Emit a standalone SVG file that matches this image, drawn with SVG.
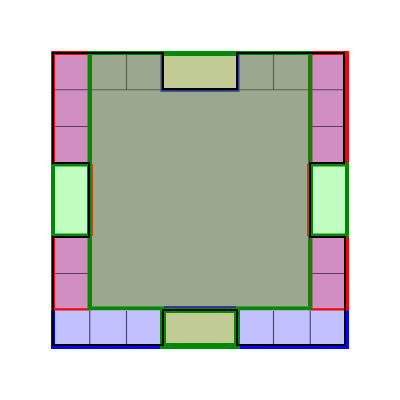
<svg xmlns="http://www.w3.org/2000/svg" width="400" height="400" viewBox="0 0 400 400">
<style>
.gray{fill:#9aa98e}
.pink{fill:#cf8fc3}
.lav{fill:#c0c0ff}
.khaki{fill:#c0cc94}
.lg{fill:#c0ffc0}
.sepg{stroke:#56624e;stroke-width:1.2;fill:none}
.sepp{stroke:#6b3760;stroke-width:1.2;fill:none}
.sepb{stroke:#4a4a7a;stroke-width:1.2;fill:none}
.red{fill:none;stroke:#ff0000;stroke-width:4}
.grn{fill:none;stroke:#008800;stroke-width:4}
.blu{fill:none;stroke:#0000ff;stroke-width:4}
.brown{stroke:#b34a12;stroke-width:2}
.outline{fill:none;stroke:#000;stroke-width:2}
</style>
<rect width="400" height="400" fill="#fff"/>
<g id="center">
  <rect class="gray" x="89.75" y="53" width="220.5" height="257.25"/>
</g>
<g id="top-row">
  <path class="sepg" d="M126.5,53V89.75M273.5,53V89.75M89.75,89.75H163.25M236.75,89.75H310.25"/>
</g>
<g id="left-column">
  <rect class="pink" x="53" y="53" width="36.75" height="257.25"/>
  <path class="sepp" d="M53,89.75H89.75M53,126.5H89.75M53,273.5H89.75"/>
  <rect class="red" x="53" y="53" width="36.75" height="257.25"/>
</g>
<g id="right-column">
  <rect class="pink" x="310.25" y="53" width="36.75" height="257.25"/>
  <path class="sepp" d="M310.25,89.75H347M310.25,126.5H347M310.25,273.5H347"/>
  <rect class="red" x="310.25" y="53" width="36.75" height="257.25"/>
</g>
<g id="center-border">
  <rect class="grn" x="89.75" y="53" width="220.5" height="255.5"/>
</g>
<g id="bottom-row">
  <rect class="lav" x="53" y="310.5" width="294" height="36.5"/>
  <path class="sepb" d="M89.75,311V346M126.5,311V346M273.5,311V346M310.25,311V346"/>
  <path class="blu" d="M53,310.5V347H347V310.5"/>
</g>
<g id="top-khaki">
  <rect class="khaki" x="163.25" y="53" width="73.5" height="36.75"/>
  <path d="M161.5,53V90.75H238.5V53" fill="none" stroke="#2e3a87" stroke-width="2"/>
  <rect x="163" y="51" width="74" height="5" fill="#008800"/>
</g>
<g id="bottom-khaki">
  <rect class="khaki" x="163" y="310" width="74" height="36"/>
  <rect x="163" y="310" width="74" height="36" fill="none" stroke="#008800" stroke-width="6"/>
  <path d="M164,307H236" stroke="#2e3a87" stroke-width="2"/>
</g>
<g id="left-green">
  <rect class="lg" x="53" y="164.5" width="36" height="71"/>
  <rect class="grn" x="53" y="164.5" width="36" height="71"/>
  <path class="brown" d="M92,164V236"/>
</g>
<g id="right-green">
  <rect class="lg" x="311" y="164.5" width="36" height="71"/>
  <rect class="grn" x="311" y="164.5" width="36" height="71"/>
  <path class="brown" d="M308,164V236"/>
</g>
<g id="connectors">
  <path class="outline" d="M53,163V53H163V89H237V53H344V163H310V237H345V345H237V310H163V345H53V237H89V163Z"/>
</g>
</svg>
